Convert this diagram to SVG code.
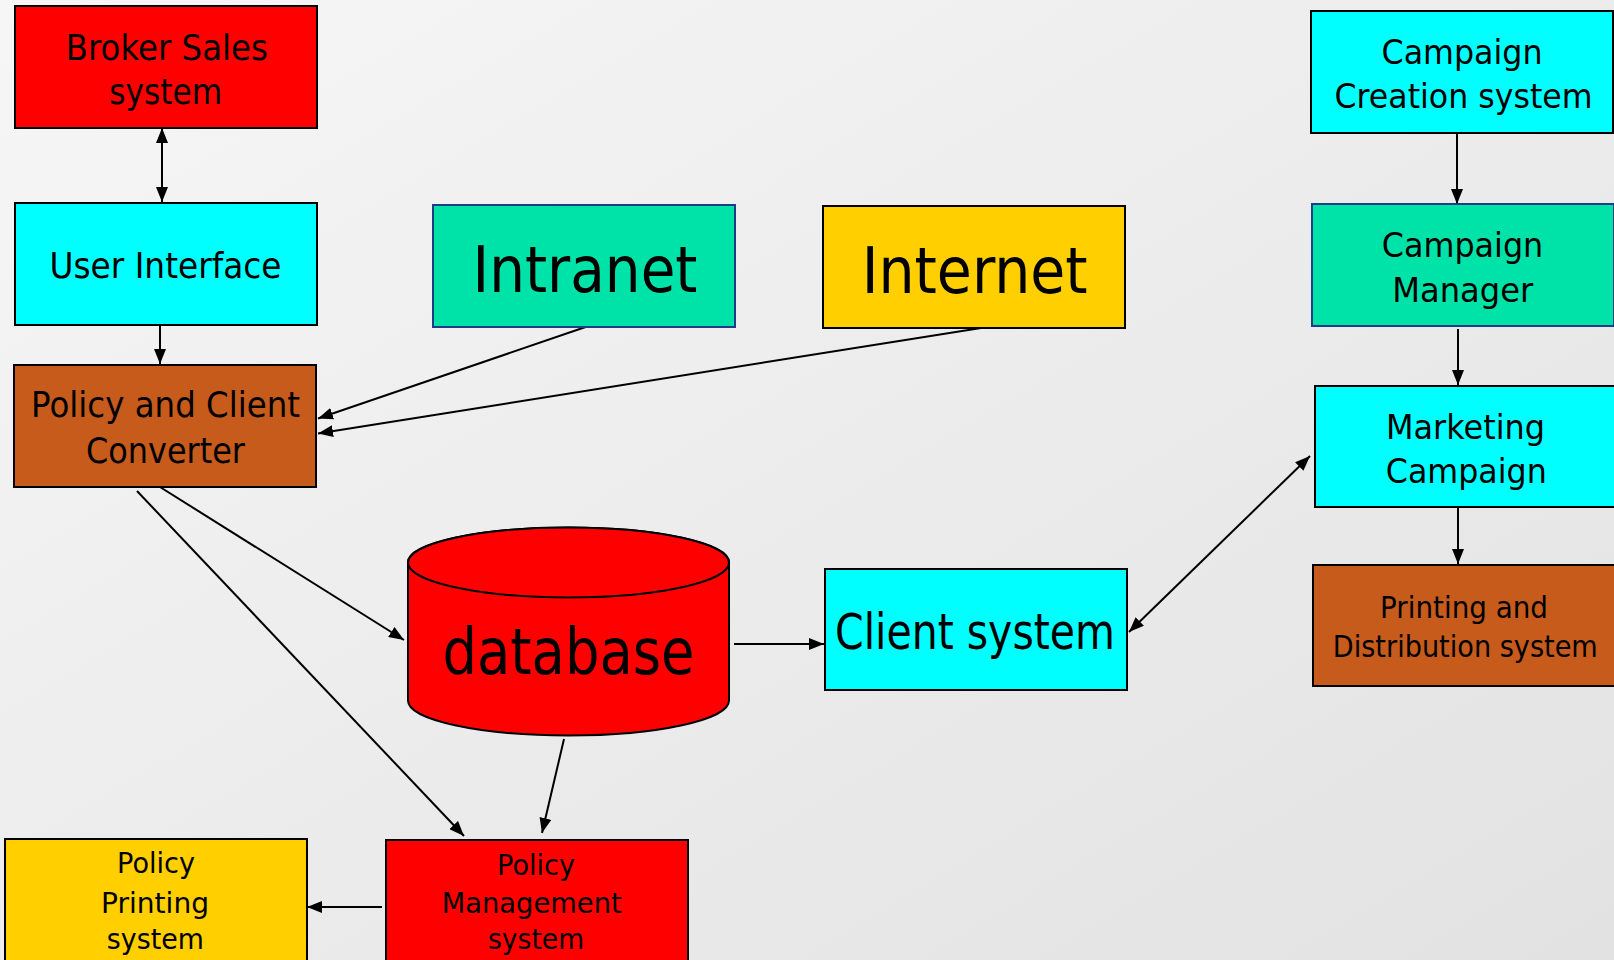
<svg xmlns="http://www.w3.org/2000/svg" width="1614" height="960" viewBox="0 0 1614 960">
<defs>
<linearGradient id="bg" x1="0" y1="0" x2="1" y2="1">
<stop offset="0" stop-color="#F6F6F6"/>
<stop offset="1" stop-color="#E2E2E2"/>
</linearGradient>
<marker id="ah" viewBox="0 0 15 12" refX="15" refY="6" markerWidth="15" markerHeight="12" markerUnits="userSpaceOnUse" orient="auto-start-reverse">
<path d="M0,0 L15,6 L0,12 Z" fill="#000"/>
</marker>
<style>
.box{stroke:#000;stroke-width:2}
.navy{stroke:#1F3C88}
.red{fill:#FF0000}
.cyan{fill:#00FFFF}
.teal{fill:#00E3A8}
.yel{fill:#FFCF00}
.brn{fill:#C65B1C}
text{font-family:"DejaVu Sans","Liberation Sans",sans-serif;fill:#000;text-anchor:middle}
.f36{font-size:36px}
.f33{font-size:33px}
.f30{font-size:30px}
.f29{font-size:29px}
.f48{font-size:49px}
.f64{font-size:64px}
.c{stroke:#000;stroke-width:2;fill:none;marker-end:url(#ah)}
.bi{marker-start:url(#ah)}
</style>
</defs>
<rect x="0" y="0" width="1614" height="960" fill="url(#bg)"/>

<g id="connectors">
<line class="c bi" x1="162" y1="128" x2="162" y2="202"/>
<line class="c" x1="160" y1="325" x2="160" y2="364"/>
<line class="c" x1="585.6" y1="327" x2="318" y2="418.5"/>
<line class="c" x1="981" y1="328" x2="318" y2="433.5"/>
<line class="c" x1="160" y1="487" x2="404" y2="640"/>
<line class="c" x1="137" y1="491" x2="464" y2="836"/>
<line class="c" x1="564" y1="739" x2="542" y2="833"/>
<line class="c" x1="734" y1="644" x2="824" y2="644"/>
<line class="c bi" x1="1129" y1="632" x2="1310" y2="456"/>
<line class="c" x1="1457" y1="133" x2="1457" y2="204"/>
<line class="c" x1="1458" y1="329" x2="1458" y2="385"/>
<line class="c" x1="1458" y1="508" x2="1458" y2="564"/>
<line class="c" x1="382" y1="907" x2="307" y2="907"/>
</g>

<g id="broker-sales">
<rect class="box red" x="15" y="6" width="302" height="122"/>
<text class="f36" x="166.8" y="60" textLength="202" lengthAdjust="spacingAndGlyphs">Broker Sales</text>
<text class="f36" x="165.7" y="104.3" textLength="113" lengthAdjust="spacingAndGlyphs">system</text>
</g>

<g id="user-interface">
<rect class="box cyan" x="15" y="203" width="302" height="122"/>
<text class="f36" x="165.5" y="278.3" textLength="232" lengthAdjust="spacingAndGlyphs">User Interface</text>
</g>

<g id="policy-client-converter">
<rect class="box brn" x="14" y="365" width="302" height="122"/>
<text class="f36" x="165.5" y="417.3" textLength="269" lengthAdjust="spacingAndGlyphs">Policy and Client</text>
<text class="f36" x="165.5" y="462.7" textLength="159" lengthAdjust="spacingAndGlyphs">Converter</text>
</g>

<g id="intranet">
<rect class="box navy teal" x="433" y="205" width="302" height="122"/>
<text class="f64" x="585" y="291.7" textLength="225" lengthAdjust="spacingAndGlyphs">Intranet</text>
</g>

<g id="internet">
<rect class="box yel" x="823" y="206" width="302" height="122"/>
<text class="f64" x="974.7" y="293.3" textLength="226" lengthAdjust="spacingAndGlyphs">Internet</text>
</g>

<g id="database">
<path d="M408,562.5 A160.5,35 0 0 1 729,562.5 V700.5 A160.5,35 0 0 1 408,700.5 Z" fill="#FF0000" stroke="#000" stroke-width="2"/>
<ellipse cx="568.5" cy="562.5" rx="160.5" ry="35" fill="#FF0000" stroke="#000" stroke-width="2"/>
<text class="f64" x="568.5" y="674.3" textLength="252" lengthAdjust="spacingAndGlyphs">database</text>
</g>

<g id="client-system">
<rect class="box cyan" x="825" y="569" width="302" height="121"/>
<text class="f48" x="975" y="649" textLength="280" lengthAdjust="spacingAndGlyphs">Client system</text>
</g>

<g id="campaign-creation">
<rect class="box cyan" x="1311" y="11" width="302" height="122"/>
<text class="f33" x="1462" y="63.5" textLength="161" lengthAdjust="spacingAndGlyphs">Campaign</text>
<text class="f33" x="1463.5" y="108" textLength="258" lengthAdjust="spacingAndGlyphs">Creation system</text>
</g>

<g id="campaign-manager">
<rect class="box navy teal" x="1312" y="204" width="302" height="122"/>
<text class="f33" x="1462.5" y="256.7" textLength="161.6" lengthAdjust="spacingAndGlyphs">Campaign</text>
<text class="f33" x="1462.7" y="301.7" textLength="141" lengthAdjust="spacingAndGlyphs">Manager</text>
</g>

<g id="marketing-campaign">
<rect class="box cyan" x="1315" y="386" width="302" height="121"/>
<text class="f33" x="1465.5" y="439.3" textLength="159" lengthAdjust="spacingAndGlyphs">Marketing</text>
<text class="f33" x="1466.3" y="483.3" textLength="161" lengthAdjust="spacingAndGlyphs">Campaign</text>
</g>

<g id="printing-distribution">
<rect class="box brn" x="1313" y="565" width="302" height="121"/>
<text class="f30" x="1464" y="618.3" textLength="168" lengthAdjust="spacingAndGlyphs">Printing and</text>
<text class="f30" x="1465.3" y="656.7" textLength="265" lengthAdjust="spacingAndGlyphs">Distribution system</text>
</g>

<g id="policy-printing">
<rect class="box yel" x="5" y="839" width="302" height="130"/>
<text class="f29" x="156" y="873.3" textLength="78" lengthAdjust="spacingAndGlyphs">Policy</text>
<text class="f29" x="155" y="913" textLength="108" lengthAdjust="spacingAndGlyphs">Printing</text>
<text class="f29" x="155.3" y="949.3" textLength="97" lengthAdjust="spacingAndGlyphs">system</text>
</g>

<g id="policy-management">
<rect class="box red" x="386" y="840" width="302" height="130"/>
<text class="f29" x="536" y="875" textLength="78" lengthAdjust="spacingAndGlyphs">Policy</text>
<text class="f29" x="531.7" y="913.3" textLength="180" lengthAdjust="spacingAndGlyphs">Management</text>
<text class="f29" x="536" y="949.3" textLength="96" lengthAdjust="spacingAndGlyphs">system</text>
</g>
</svg>
